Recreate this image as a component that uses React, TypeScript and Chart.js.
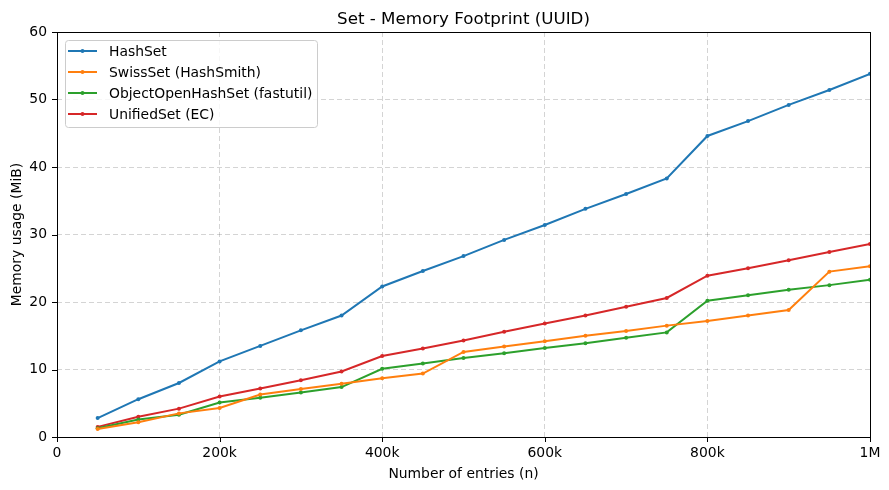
import React, { useEffect, useRef } from "react";
import { Chart, registerables } from "chart.js";

Chart.register(...registerables);

const entries = [50000, 100000, 150000, 200000, 250000, 300000, 350000, 400000, 450000, 500000, 550000, 600000, 650000, 700000, 750000, 800000, 850000, 900000, 950000, 1000000];
const hashSet = [2.8, 5.6, 8.0, 11.2, 13.5, 15.8, 18.0, 22.3, 24.6, 26.8, 29.2, 31.4, 33.8, 36.0, 38.3, 44.6, 46.8, 49.2, 51.4, 53.8];
const swissSet = [1.2, 2.2, 3.5, 4.3, 6.3, 7.1, 7.9, 8.7, 9.4, 12.6, 13.4, 14.2, 15.0, 15.7, 16.5, 17.2, 18.0, 18.8, 24.5, 25.3];
const objectOpenHashSet = [1.3, 2.6, 3.3, 5.1, 5.8, 6.6, 7.4, 10.1, 10.9, 11.7, 12.4, 13.2, 13.9, 14.7, 15.5, 20.2, 21.0, 21.8, 22.5, 23.3];
const unifiedSet = [1.5, 3.0, 4.2, 6.0, 7.2, 8.4, 9.7, 12.0, 13.1, 14.3, 15.6, 16.8, 18.0, 19.3, 20.6, 23.9, 25.0, 26.2, 27.4, 28.6];

const seriesNames = ["HashSet", "SwissSet (HashSmith)", "ObjectOpenHashSet (fastutil)", "UnifiedSet (EC)"];
const seriesColors = ["#1f77b4", "#ff7f0e", "#2ca02c", "#d62728"];
const chartTitle = "Set - Memory Footprint (UUID)";
const xTitle = "Number of entries (n)";
const yTitle = "Memory usage (MiB)";

const FONT = "'DejaVu Sans', sans-serif";

const fmtX = (v: number) => {
  if (v === 0) return "0";
  if (v >= 1000000) return v / 1000000 + "M";
  return v / 1000 + "k";
};

const decorPlugin = {
  id: "decor",
  afterDraw(chart: any) {
    const { ctx, chartArea: a, scales } = chart;
    ctx.save();
    ctx.strokeStyle = "#000";
    ctx.lineWidth = 1;
    ctx.strokeRect(Math.round(a.left) + 0.5, Math.round(a.top) + 0.5, Math.round(a.right - a.left), Math.round(a.bottom - a.top));
    ctx.beginPath();
    scales.x.ticks.forEach((t: any) => {
      const px = Math.round(scales.x.getPixelForValue(t.value)) + 0.5;
      ctx.moveTo(px, a.bottom);
      ctx.lineTo(px, a.bottom + 5);
    });
    scales.y.ticks.forEach((t: any) => {
      const py = Math.round(scales.y.getPixelForValue(t.value)) + 0.5;
      ctx.moveTo(a.left, py);
      ctx.lineTo(a.left - 5, py);
    });
    ctx.stroke();
    ctx.fillStyle = "#000";
    ctx.textAlign = "center";
    ctx.textBaseline = "middle";
    ctx.font = `16.7px ${FONT}`;
    ctx.fillText(chartTitle, (a.left + a.right) / 2, 11.5);
    ctx.font = `13.9px ${FONT}`;
    ctx.fillText(xTitle, (a.left + a.right) / 2, 466);
    ctx.save();
    ctx.translate(9, (a.top + a.bottom) / 2);
    ctx.rotate(-Math.PI / 2);
    ctx.fillText(yTitle, 0, 0);
    ctx.restore();
    const lx = a.left + 8, ly = a.top + 8, lw = 252, lh = 87;
    ctx.fillStyle = "rgba(255,255,255,0.8)";
    ctx.strokeStyle = "#cccccc";
    ctx.lineWidth = 1;
    ctx.beginPath();
    (ctx as any).roundRect(lx + 0.5, ly + 0.5, lw, lh, 3);
    ctx.fill();
    ctx.stroke();
    ctx.textAlign = "left";
    ctx.font = `13.9px ${FONT}`;
    chart.data.datasets.forEach((ds: any, i: number) => {
      const y = ly + 11 + i * 21;
      ctx.strokeStyle = ds.borderColor;
      ctx.lineWidth = 2;
      ctx.beginPath();
      ctx.moveTo(lx + 3, y);
      ctx.lineTo(lx + 32, y);
      ctx.stroke();
      ctx.fillStyle = ds.borderColor;
      ctx.beginPath();
      ctx.arc(lx + 17.5, y, 2, 0, Math.PI * 2);
      ctx.fill();
      ctx.fillStyle = "#000";
      ctx.fillText(ds.label, lx + 44, y + 1);
    });
    ctx.restore();
  },
};

export default function App() {
  const ref = useRef<HTMLCanvasElement | null>(null);
  useEffect(() => {
    if (!ref.current) return;
    const series = [hashSet, swissSet, objectOpenHashSet, unifiedSet];
    const chart = new Chart(ref.current, {
      type: "line",
      data: {
        datasets: series.map((s, i) => ({
          label: seriesNames[i],
          data: s.map((v, j) => ({ x: entries[j], y: v })),
          borderColor: seriesColors[i],
          backgroundColor: seriesColors[i],
          borderWidth: 2,
          pointRadius: 2,
          pointHoverRadius: 2,
          pointBorderWidth: 0,
          tension: 0,
        })),
      },
      options: {
        responsive: true,
        maintainAspectRatio: false,
        animation: false,
        layout: { padding: { top: 24, right: 11, left: 0, bottom: 0 } },
        plugins: { legend: { display: false }, title: { display: false }, tooltip: { enabled: false } },
        scales: {
          x: {
            type: "linear",
            min: 0,
            max: 1000000,
            afterFit: (s: any) => { s.height = 45; s.paddingLeft = 0; s.paddingRight = 0; },
            border: { display: false, dash: [5, 3] },
            grid: { color: "rgba(0,0,0,0.17)", lineWidth: 1, drawTicks: false },
            ticks: { stepSize: 200000, padding: 8, color: "#000", font: { family: FONT, size: 13.9 }, maxRotation: 0, callback: (v: any) => fmtX(Number(v)) },
          },
          y: {
            type: "linear",
            min: 0,
            max: 60,
            afterFit: (s: any) => { s.width = 49; s.paddingTop = 0; s.paddingBottom = 0; },
            border: { display: false, dash: [5, 3] },
            grid: { color: "rgba(0,0,0,0.17)", lineWidth: 1, drawTicks: false },
            ticks: { stepSize: 10, padding: 10, color: "#000", font: { family: FONT, size: 13.9 } },
          },
        },
      } as any,
      plugins: [decorPlugin],
    });
    return () => chart.destroy();
  }, []);
  return (
    <div style={{ width: 873, height: 474, position: "relative" }}>
      <canvas ref={ref} />
    </div>
  );
}
